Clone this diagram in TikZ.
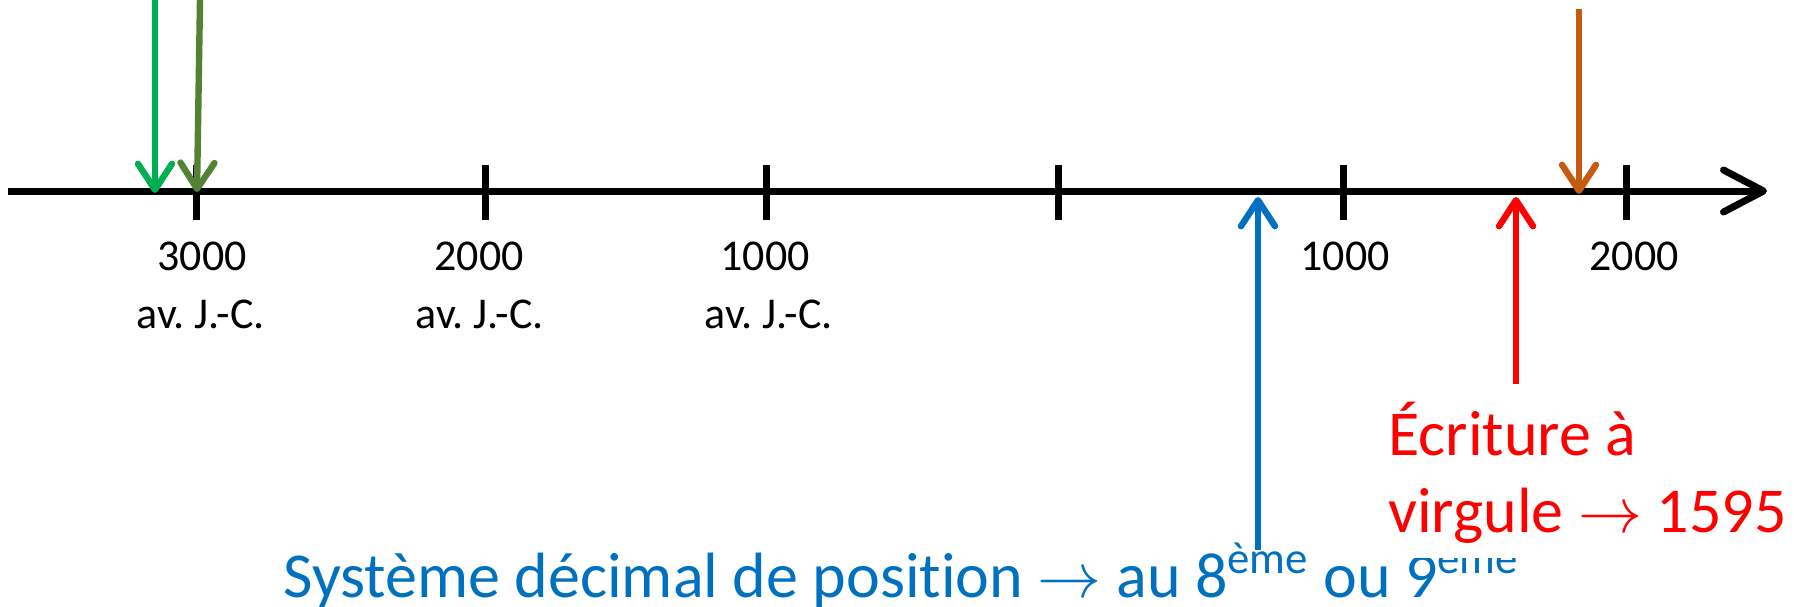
\documentclass[tikz,border=0pt]{standalone}
\usepackage{fontspec}
\setmainfont{Carlito}[Ligatures={TeX,NoCommon}]
\DeclareFontFamily{OMS}{cmsy}{\skewchar\font48 }
\DeclareFontShape{OMS}{cmsy}{m}{n}{<-> cmsy10}{}
\frenchspacing
\usetikzlibrary{arrows.meta}
\definecolor{cgreen}{HTML}{00B050}
\definecolor{colive}{HTML}{548235}
\definecolor{corange}{HTML}{C55A11}
\definecolor{cblue}{HTML}{0070C0}
\definecolor{cred}{HTML}{FF0000}
\begin{document}
\begin{tikzpicture}[x=0.5pt,y=-0.5pt,
  axisline/.style={line width=3.5pt, -{Straight Barb[length=20pt,width=21pt,round]}},
  tickmark/.style={line width=3.5pt},
  evarrow/.style={line width=3.2pt, -{Straight Barb[length=13pt,width=17pt,round]}},
  yearlbl/.style={font=\fontsize{22}{26}\selectfont, anchor=base, inner sep=0pt},
  bigtxt/.style={font=\fontsize{32}{38.5}\selectfont, anchor=base west, inner sep=0pt}]
\useasboundingbox (0,0) rectangle (1794,606);

% axis
\coordinate (ax0) at (8,191);
\coordinate (ax1) at (1767,191);
\draw[axisline] (ax0) -- (ax1);

% ticks
\foreach \x in {196,485,766,1058,1343,1626}
  \draw[tickmark] (\x,165) -- (\x,220);

% year labels
\node[yearlbl] (y3000)  at (202,270) {3000};
\node[yearlbl] (y3000b) at (201,328) {av. J.-C.};
\node[yearlbl] (y2000)  at (479,270) {2000};
\node[yearlbl] (y2000b) at (480,328) {av. J.-C.};
\node[yearlbl] (y1000)  at (765,270) {1000};
\node[yearlbl] (y1000b) at (769,328) {av. J.-C.};
\node[yearlbl] (a1000)  at (1345,270) {1000};
\node[yearlbl] (a2000)  at (1634,270) {2000};

% event arrows
\coordinate (g0) at (155,0);   \coordinate (g1) at (155,193);
\coordinate (o0) at (200,0);   \coordinate (o1) at (197,192);
\coordinate (r0) at (1579,9);  \coordinate (r1) at (1579,194);
\coordinate (b0) at (1258,550);\coordinate (b1) at (1258,197);
\coordinate (d0) at (1516,384);\coordinate (d1) at (1516,197);
\draw[evarrow, cgreen] (g0) -- (g1);
\draw[evarrow, colive] (o0) -- (o1);
\draw[evarrow, corange] (r0) -- (r1);
\draw[evarrow, cblue] (b0) -- (b1);
\draw[evarrow, cred] (d0) -- (d1);

% texts
\node[bigtxt, text=cblue] (sys) at (283,597)
  {Système décimal de position $\rightarrow$ au 8\textsuperscript{ème} ou 9\textsuperscript{ème}};
\fill[white] (1385,395) rectangle (1794,558);
\node[bigtxt, text=cred] (ecr1) at (1388,455) {Écriture à};
\node[bigtxt, text=cred] (ecr2) at (1388,532) {virgule $\rightarrow$ 1595};
\end{tikzpicture}
\end{document}
